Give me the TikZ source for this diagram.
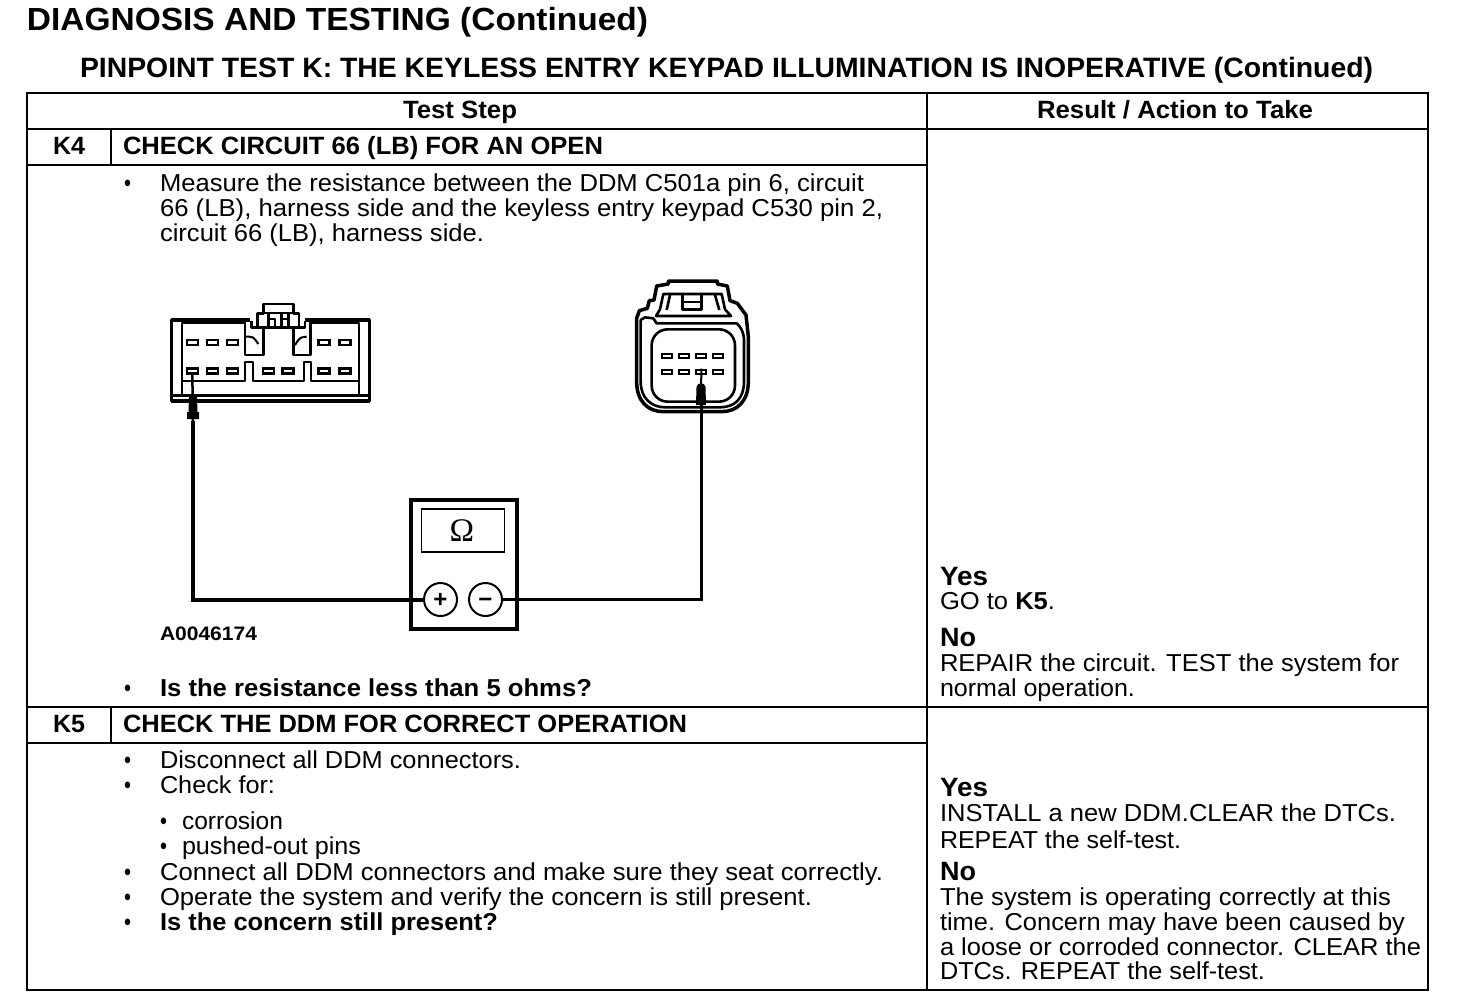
\documentclass[tikz,border=0pt]{standalone}
\usepackage{fontspec}
\usepackage{graphicx}
\setmainfont{Liberation Sans}
\newfontfamily\omegafont{Liberation Serif}
\usetikzlibrary{calc}
\newcommand\tx[6]{\node[#5,anchor=base west,inner sep=0pt,outer sep=0pt] (#1) at (#2,#3) {\resizebox{#4pt}{\height}{#6}};}
\tikzset{
 x=1pt,y=-1pt,
 body/.style={font=\fontsize{24.5}{25}\selectfont},
 bodyb/.style={font=\fontsize{24.5}{25}\selectfont\bfseries},
 head/.style={font=\fontsize{25}{25}\selectfont\bfseries},
 yesno/.style={font=\fontsize{26.5}{25}\selectfont\bfseries},
 rule/.style={line width=2pt,line cap=rect},
 thinl/.style={line width=2pt,line join=round},
 medl/.style={line width=2.6pt,line join=round},
 thick3/.style={line width=3.5pt,line join=round},
 pinbox/.style={draw,line width=2.2pt,minimum width=11pt,minimum height=5pt,inner sep=0pt},
 pinsm/.style={draw,line width=2pt,minimum width=10pt,minimum height=4pt,inner sep=0pt},
 probe/.style={fill=black,draw=none},
}
\begin{document}
\begin{tikzpicture}
\useasboundingbox (0,0) rectangle (1472,1004);
\fill[white] (0,0) rectangle (1472,1004);
% table
\draw[rule] (27,93) rectangle (1428,990);
\draw[rule] (927,93) -- (927,990);
\draw[rule] (27,129) -- (1428,129);
\draw[rule] (27,165) -- (927,165);
\draw[rule] (27,707) -- (1428,707);
\draw[rule] (27,743) -- (927,743);
\draw[rule] (111,129) -- (111,165);
\draw[rule] (111,707) -- (111,743);
% titles
\tx{t1}{27}{30}{621}{font=\fontsize{32}{32}\selectfont\bfseries}{DIAGNOSIS AND TESTING (Continued)}
\tx{t2}{80}{77}{1293}{font=\fontsize{28}{28}\selectfont\bfseries}{PINPOINT TEST K: THE KEYLESS ENTRY KEYPAD ILLUMINATION IS INOPERATIVE (Continued)}
\tx{h1}{403}{118}{114}{head}{Test Step}
\tx{h2}{1037}{118}{276}{head}{Result / Action to Take}
% K4
\tx{k4}{53}{154}{32}{head}{K4}
\tx{k4t}{123}{154}{480}{head}{CHECK CIRCUIT 66 (LB) FOR AN OPEN}
\tx{b1}{124}{191}{7}{body}{•}
\tx{l1}{160}{191}{704}{body}{Measure the resistance between the DDM C501a pin 6, circuit}
\tx{l2}{160}{216}{723}{body}{66 (LB), harness side and the keyless entry keypad C530 pin 2,}
\tx{l3}{160}{241}{324}{body}{circuit 66 (LB), harness side.}
\tx{fig}{160}{640}{97}{font=\fontsize{19.5}{20}\selectfont\bfseries}{A0046174}
\tx{b2}{124}{696}{7}{body}{•}
\tx{l4}{160}{696}{432}{bodyb}{Is the resistance less than 5 ohms?}
% K5
\tx{k5}{53}{732}{32}{head}{K5}
\tx{k5t}{123}{732}{564}{head}{CHECK THE DDM FOR CORRECT OPERATION}
\tx{b3}{124}{768}{7}{body}{•}
\tx{m1}{160}{768}{361}{body}{Disconnect all DDM connectors.}
\tx{b4}{124}{793}{7}{body}{•}
\tx{m2}{160}{793}{115}{body}{Check for:}
\tx{b5}{160}{829}{7}{body}{•}
\tx{m3}{182}{829}{101}{body}{corrosion}
\tx{b6}{160}{854}{7}{body}{•}
\tx{m4}{182}{854}{179}{body}{pushed-out pins}
\tx{b7}{124}{880}{7}{body}{•}
\tx{m5}{160}{880}{723}{body}{Connect all DDM connectors and make sure they seat correctly.}
\tx{b8}{124}{905}{7}{body}{•}
\tx{m6}{160}{905}{652}{body}{Operate the system and verify the concern is still present.}
\tx{b9}{124}{930}{7}{body}{•}
\tx{m7}{160}{930}{338}{bodyb}{Is the concern still present?}
% results
\tx{r1}{940}{585}{48}{yesno}{Yes}
\tx{r2}{940}{609}{115}{body}{GO to \textbf{K5}.}
\tx{r3}{940}{646}{36}{yesno}{No}
\tx{r4}{940}{671}{459}{body}{REPAIR the circuit. TEST the system for}
\tx{r5}{940}{696}{195}{body}{normal operation.}
\tx{s1}{940}{796}{48}{yesno}{Yes}
\tx{s2}{940}{821}{456}{body}{INSTALL a new DDM.CLEAR the DTCs.}
\tx{s3}{940}{848}{241}{body}{REPEAT the self-test.}
\tx{s4}{940}{880}{36}{yesno}{No}
\tx{s5}{940}{905}{451}{body}{The system is operating correctly at this}
\tx{s6}{940}{930}{465}{body}{time. Concern may have been caused by}
\tx{s7}{940}{955}{481}{body}{a loose or corroded connector. CLEAR the}
\tx{s8}{940}{979}{325}{body}{DTCs. REPEAT the self-test.}
% ---- left connector (zoom coordinates)
\begin{scope}[shift={(150,290)},x=0.3333pt,y=-0.3333pt]
 \draw[thick3] (300,90) -- (65,90) -- (65,333) -- (658,333) -- (658,90) -- (465,90);
 \draw[medl] (65,316) -- (658,316);
 \draw[thinl] (285,100) -- (97,100) -- (97,316);
 \draw[thinl] (482,100) -- (628,100) -- (628,316);
 \draw[thinl] (97,272) -- (285,272) -- (285,215) -- (308,215) -- (308,272) -- (462,272) -- (462,215) -- (482,215) -- (482,272) -- (628,272);
 \draw[medl] (285,92) -- (285,195) -- (340,195) -- (340,112) -- (430,112) -- (430,195) -- (482,195) -- (482,92);
 \draw[medl] (305,92) -- (305,112) -- (340,112);
 \draw[medl] (465,92) -- (465,112) -- (430,112);
 \draw[thinl] (288,140) .. controls (310,140) .. (325,162);
 \draw[thinl] (470,140) .. controls (450,142) .. (435,165);
 \draw[medl] (322,112) -- (322,70) -- (340,70) -- (340,42) -- (430,42) -- (430,70) -- (447,70) -- (447,112);
 \draw[thinl] (340,70) -- (430,70);
 \draw[medl] (355,72) -- (355,108) (415,72) -- (415,108);
 \draw[medl] (355,87) -- (375,87) -- (375,108) (395,87) -- (415,87) (395,72) -- (395,108);
 % pins
 \node[pinbox] (p1) at (127,157) {};
 \node[pinbox] (p2) at (187,157) {};
 \node[pinbox] (p3) at (247,157) {};
 \node[pinbox] (p4) at (522,157) {};
 \node[pinbox] (p5) at (585,157) {};
 \node[pinbox] (q1) at (127,243) {};
 \node[pinbox] (q2) at (187,243) {};
 \node[pinbox] (q3) at (247,243) {};
 \node[pinbox] (q4) at (355,243) {};
 \node[pinbox] (q5) at (414,243) {};
 \node[pinbox] (q6) at (522,243) {};
 \node[pinbox] (q7) at (585,243) {};
\end{scope}
% ---- right connector (zoom coordinates)
\begin{scope}[shift={(620,270)},x=0.3333pt,y=-0.3333pt]
 \draw[thick3] (145,42) -- (145,33) -- (292,33) -- (292,42) -- (322,48) -- (330,92) -- (352,100) -- (378,135) -- (385,200) -- (385,335) .. controls (385,395) and (350,425) .. (305,425) -- (130,425) .. controls (85,425) and (50,395) .. (50,335) -- (50,145) -- (58,122) -- (82,115) -- (88,92) -- (102,90) -- (110,48) -- cycle;
 \draw[medl] (62,150) -- (62,335) .. controls (62,385) and (95,412) .. (135,412) -- (300,412) .. controls (345,412) and (372,385) .. (372,335) -- (372,205) .. controls (370,185) and (362,170) .. (350,160) -- (110,160) -- (100,145) -- (75,142) -- cycle;
 \draw[medl] (108,138) -- (120,118) -- (130,72) -- (305,72) -- (315,118) -- (333,138) -- cycle;
 \draw[medl] (150,75) -- (140,120) (285,75) -- (298,120);
 \draw[thick3] (188,75) -- (188,118) -- (245,118) -- (245,75);
 \draw[medl] (190,96) -- (245,96);
 \draw[medl,rounded corners=16pt] (95,178) rectangle (345,395);
 \node[pinsm] (a1) at (142,258) {};
 \node[pinsm] (a2) at (192,258) {};
 \node[pinsm] (a3) at (244,258) {};
 \node[pinsm] (a4) at (295,258) {};
 \node[pinsm] (c1) at (142,305) {};
 \node[pinsm] (c2) at (192,305) {};
 \node[pinsm] (c3) at (244,305) {};
 \node[pinsm] (c4) at (295,305) {};
\end{scope}
% ---- meter
\draw[line width=3.5pt] (411,500) rectangle (517,629);
\node[draw,line width=1.8pt,minimum width=83pt,minimum height=43pt,inner sep=0pt] (disp) at (463,530.5) {};
\node[font=\fontsize{33}{33}\selectfont\omegafont,inner sep=0pt] (om) at (462,531) {Ω};
\node[circle,draw,line width=2pt,minimum size=33pt,inner sep=0pt] (plusT) at (440.5,599.5) {};
\node[circle,draw,line width=2pt,minimum size=33pt,inner sep=0pt] (minusT) at (485.5,599.5) {};
\node[font=\fontsize{24}{24}\selectfont\bfseries,inner sep=0pt] (pl) at (440.5,600) {+};
\node[font=\fontsize{24}{24}\selectfont\bfseries,inner sep=0pt,yshift=-3pt] (mi) at (485.5,600) {−};
% ---- leads
\coordinate (tipL) at (193,421);
\coordinate (tipR) at (701,405);
\draw[line width=4pt,line join=miter] (plusT.west) -| (tipL);
\draw[line width=2.5pt] (tipL) -- (q1.south);
\fill[probe] (189,397) -- (197,397) -- (197.5,412) -- (199,412) -- (199,419) -- (187,419) -- (187,412) -- (188.5,412) -- cycle;
\draw[line width=3pt,line join=miter] (minusT.east) -| (tipR);
\draw[line width=2pt] (tipR) -- (c3.north);
\fill[probe] (696,405) -- (706,405) -- (705.5,387) .. controls (705,382) and (697,382) .. (696.5,387) -- cycle;
\end{tikzpicture}
\end{document}
